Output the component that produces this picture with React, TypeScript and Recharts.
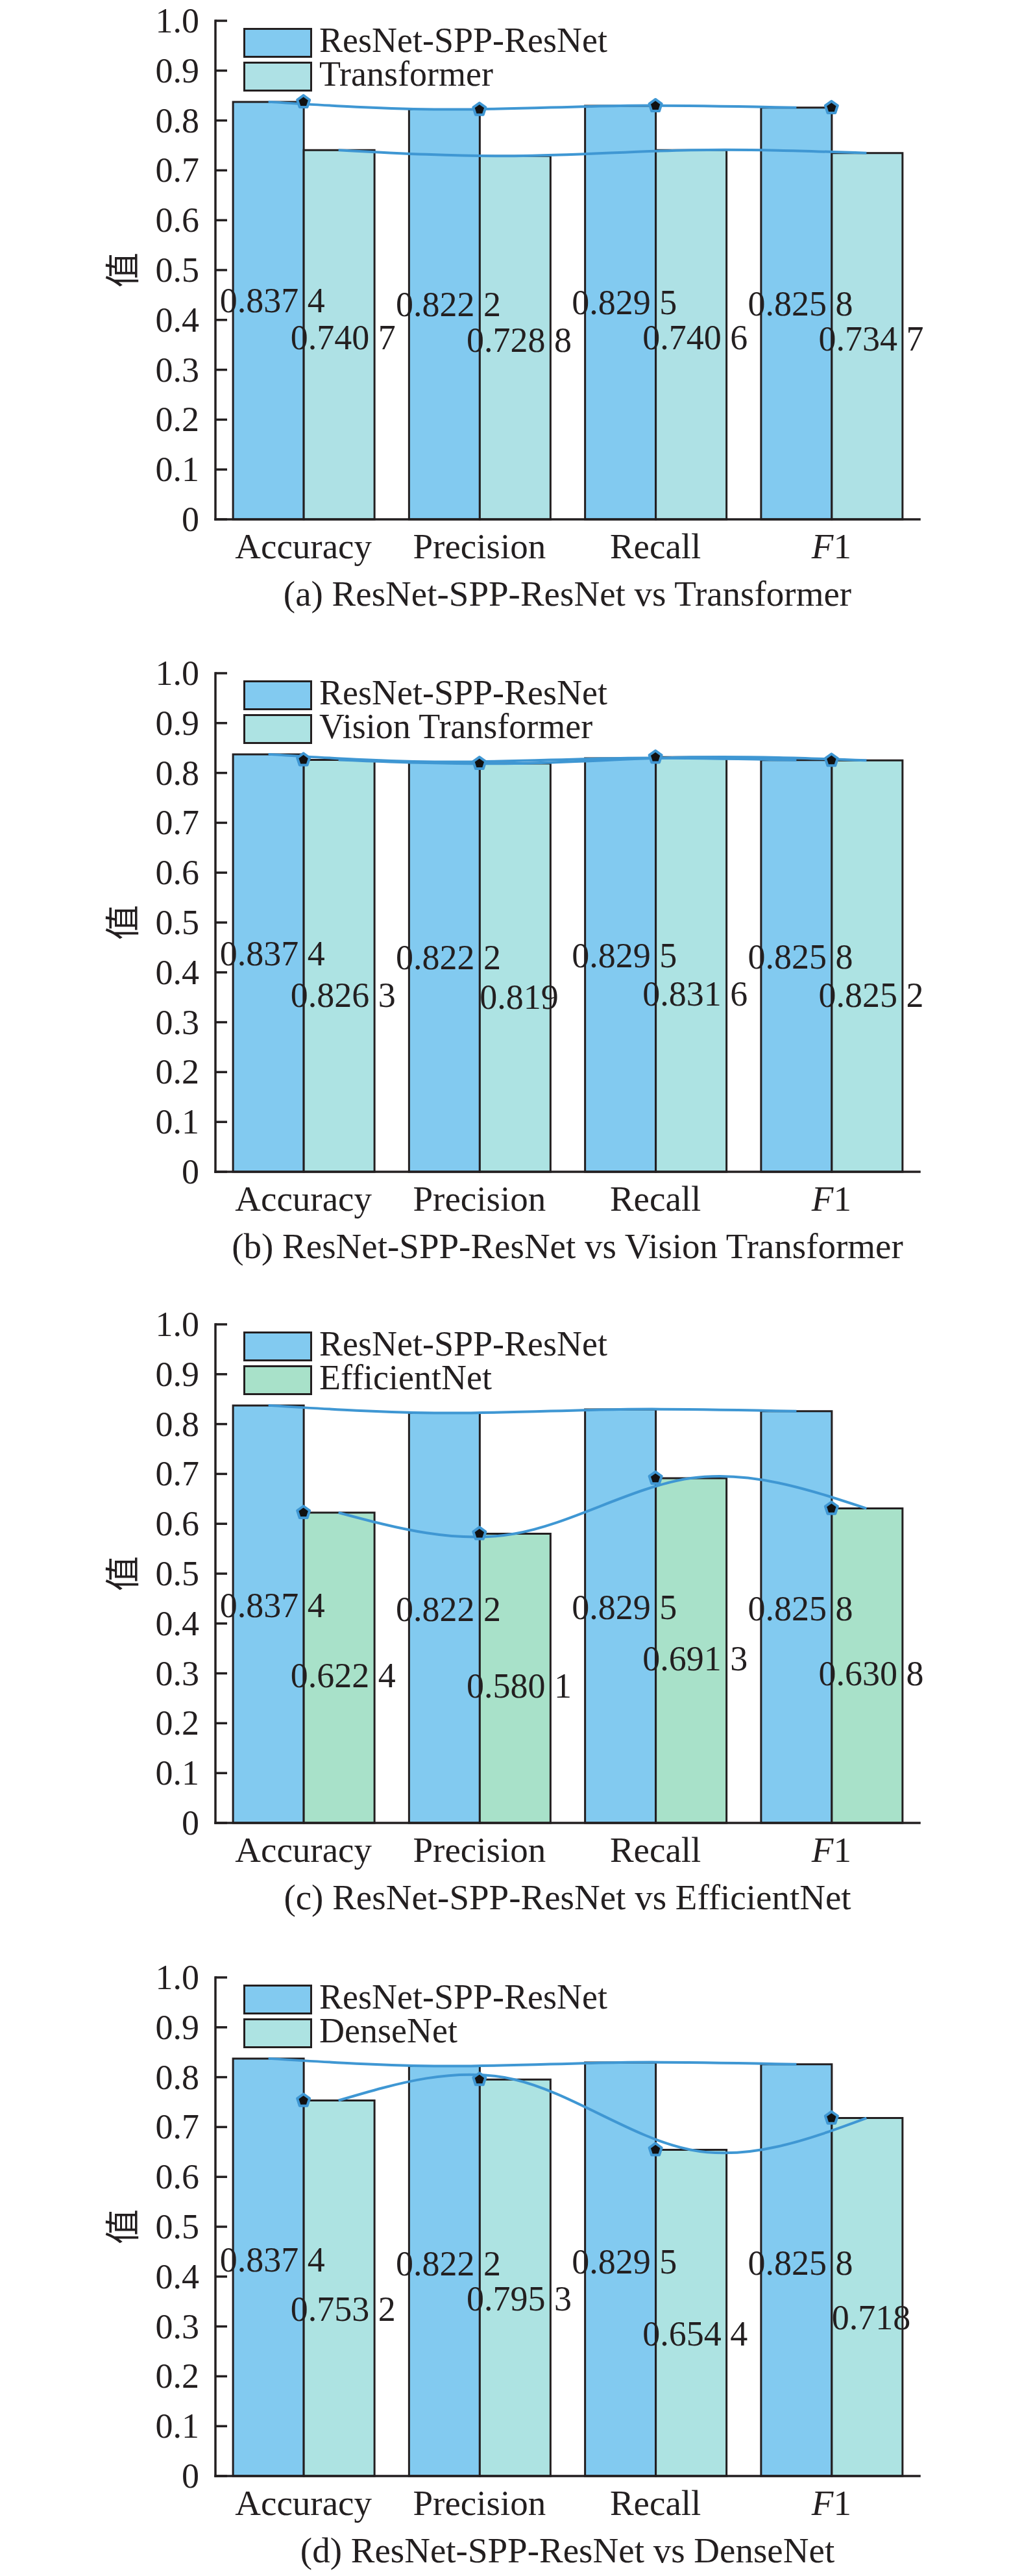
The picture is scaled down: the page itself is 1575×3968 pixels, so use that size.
import React from 'react';
import { ComposedChart, Bar, Line, XAxis, YAxis, Legend, LabelList, Label } from 'recharts';

// ---------- data ----------
const categories = ['Accuracy', 'Precision', 'Recall', 'F1'];
const resnetValues = [0.8374, 0.8222, 0.8295, 0.8258];
const transformerValues = [0.7407, 0.7288, 0.7406, 0.7347];
const vitValues = [0.8263, 0.819, 0.8316, 0.8252];
const efficientNetValues = [0.6224, 0.5801, 0.6913, 0.6308];
const denseNetValues = [0.7532, 0.7953, 0.6544, 0.718];
const yTicks = [0, 0.1, 0.2, 0.3, 0.4, 0.5, 0.6, 0.7, 0.8, 0.9, 1.0];
const mainName = 'ResNet-SPP-ResNet';
const compareNames = ['Transformer', 'Vision Transformer', 'EfficientNet', 'DenseNet'];
const captions = [
  '(a) ResNet-SPP-ResNet vs Transformer',
  '(b) ResNet-SPP-ResNet vs Vision Transformer',
  '(c) ResNet-SPP-ResNet vs EfficientNet',
  '(d) ResNet-SPP-ResNet vs DenseNet',
];
const yAxisTitle = '值';

// ---------- style ----------
const SERIF = '"Liberation Serif", "Times New Roman", serif';
const CJK = '"Noto Sans CJK SC", sans-serif';
const INK = '#231f20';
const FRAME = '#231f20';
const BLUE = '#82CAF0';
const LINE = '#3F97D3';
const FS = 54;

const panels = [
  { values2: transformerValues, color2: '#AEE1E5', marker: 's1', off1: 3, off2: 22, top: 0 },
  { values2: vitValues, color2: '#ADE3E3', marker: 's2', off1: 4, off2: 63, top: 1005 },
  { values2: efficientNetValues, color2: '#A8E1C9', marker: 's2', off1: 5, off2: 30, top: 2008 },
  { values2: denseNetValues, color2: '#ADE3E2', marker: 's2', off1: 7, off2: 50, top: 3014 },
];

const fmt = (v: number) => {
  let s = v.toFixed(4).replace(/0+$/, '');
  const dec = s.split('.')[1] || '';
  if (dec.length === 4) s = s.slice(0, -1) + ' ' + s.slice(-1);
  return s;
};

const YTick = (props: any) => {
  const { x, y, payload } = props;
  const v = payload.value as number;
  return (
    <g>
      <line x1={x + 25} x2={x + 43} y1={y} y2={y} stroke={FRAME} strokeWidth={3.5} />
      <text x={x} y={y + 18} textAnchor="end" fontSize={FS} fontFamily={SERIF} fill={INK}>
        {v === 0 ? '0' : v.toFixed(1)}
      </text>
    </g>
  );
};

const XTick = (props: any) => {
  const { x, y, payload } = props;
  const v = payload.value as string;
  return (
    <text x={x} y={y + 60} textAnchor="middle" fontSize={55} fontFamily={SERIF} fill={INK}>
      {v === 'F1' ? (
        <>
          <tspan fontStyle="italic">F</tspan>
          <tspan>1</tspan>
        </>
      ) : (
        v
      )}
    </text>
  );
};

const renderPentagon = (props: any) => {
  const { cx, cy, index } = props;
  if (cx == null || cy == null) return <g key={`m-${index}`} />;
  const r = 10;
  const pts = [0, 1, 2, 3, 4]
    .map((k) => {
      const a = ((-90 + k * 72) * Math.PI) / 180;
      return `${cx + r * Math.cos(a)},${cy + r * Math.sin(a)}`;
    })
    .join(' ');
  return (
    <polygon key={`m-${index}`} points={pts} fill="#111" stroke={LINE} strokeWidth={4} strokeLinejoin="round" />
  );
};

const LegendBox = ({ items }: { items: { name: string; color: string }[] }) => (
  <div style={{ display: 'flex', flexDirection: 'column', gap: 6 }}>
    {items.map((it) => (
      <div key={it.name} style={{ display: 'flex', alignItems: 'center', height: 46 }}>
        <div
          style={{
            width: 106,
            height: 46,
            boxSizing: 'border-box',
            border: `3.5px solid ${FRAME}`,
            background: it.color,
          }}
        />
        <span
          style={{
            marginLeft: 11,
            fontSize: FS,
            fontFamily: SERIF,
            color: INK,
            lineHeight: '46px',
            whiteSpace: 'nowrap',
            position: 'relative',
            top: -4,
          }}
        >
          {it.name}
        </span>
      </div>
    ))}
  </div>
);

const Panel = ({ idx }: { idx: number }) => {
  const p = panels[idx];
  const data = categories.map((name, i) => ({ name, s1: resnetValues[i], s2: p.values2[i] }));

  const label2 = (props: any) => {
    const { viewBox, value } = props;
    if (!viewBox) return null;
    const { x, y, width, height } = viewBox;
    return (
      <text x={x + width / 2 + 6} y={y + height / 2 + p.off2} textAnchor="middle" fontSize={FS} fontFamily={SERIF} fill={INK}>
        {fmt(value)}
      </text>
    );
  };

  const label1 = (props: any) => {
    const { viewBox, value, index } = props;
    if (!viewBox) return null;
    const { x, y, width, height } = viewBox;
    const i = typeof index === 'number' ? index : data.findIndex((d) => d.s1 === value);
    const v2 = data[i].s2;
    const base = y + height;
    const h1 = (height * value) / v2;
    return (
      <text x={x - width / 2 + 6} y={base - h1 / 2 + p.off1} textAnchor="middle" fontSize={FS} fontFamily={SERIF} fill={INK}>
        {fmt(value)}
      </text>
    );
  };

  const yLabel = (props: any) => {
    const vb = props.viewBox;
    const cx = vb.x + vb.width - 147;
    const cy = vb.y + vb.height / 2;
    return (
      <text x={cx} y={cy} transform={`rotate(-90 ${cx} ${cy})`} textAnchor="middle" dominantBaseline="central" fontSize={FS} fontFamily={CJK} fill={INK}>
        {yAxisTitle}
      </text>
    );
  };

  const caption = (props: any) => {
    const vb = props.viewBox;
    return (
      <text x={vb.x + vb.width / 2} y={vb.y + 133} textAnchor="middle" fontSize={55} fontFamily={SERIF} fill={INK}>
        {captions[idx]}
      </text>
    );
  };

  const axisLine = { stroke: FRAME, strokeWidth: 3.5, strokeLinecap: 'square' as const };

  return (
    <div style={{ position: 'absolute', left: 0, top: p.top, width: 1575, height: 1005 }}>
      <ComposedChart
        width={1575}
        height={1005}
        data={data}
        margin={{ top: 32, right: 158, bottom: 55, left: 0 }}
        barCategoryGap="10%"
        barGap={0}
      >
        <XAxis
          dataKey="name"
          interval={0}
          height={150}
          tickLine={false}
          tickSize={0}
          tickMargin={0}
          axisLine={axisLine}
          tick={<XTick />}
        >
          <Label content={caption} />
        </XAxis>
        <XAxis xAxisId="top" dataKey="name" orientation="top" height={0} tick={false} tickLine={false} axisLine={axisLine} />
        <XAxis xAxisId="L1" dataKey="name" hide padding={{ left: -54, right: 54 }} />
        <XAxis xAxisId="L2" dataKey="name" hide padding={{ left: 54, right: -54 }} />
        <YAxis
          type="number"
          domain={[0, 1]}
          ticks={yTicks}
          interval={0}
          width={332}
          tickLine={false}
          tickSize={0}
          tickMargin={25}
          axisLine={axisLine}
          tick={<YTick />}
        >
          <Label content={yLabel} />
        </YAxis>
        <YAxis yAxisId="right" orientation="right" domain={[0, 1]} width={0} tick={false} tickLine={false} axisLine={axisLine} />
        <Legend
          layout="vertical"
          align="center"
          verticalAlign="middle"
          wrapperStyle={{ top: 43, left: 375, width: 'auto', height: 'auto' }}
          content={() => (
            <LegendBox
              items={[
                { name: mainName, color: BLUE },
                { name: compareNames[idx], color: p.color2 },
              ]}
            />
          )}
        />
        <Bar dataKey="s1" fill={BLUE} stroke={FRAME} strokeWidth={3} isAnimationActive={false} />
        <Bar dataKey="s2" fill={p.color2} stroke={FRAME} strokeWidth={3} isAnimationActive={false}>
          <LabelList dataKey="s2" content={label2} />
          <LabelList dataKey="s1" content={label1} />
        </Bar>
        <Line xAxisId="L1" dataKey="s1" type="natural" stroke={LINE} strokeWidth={4} dot={false} activeDot={false} isAnimationActive={false} />
        <Line xAxisId="L2" dataKey="s2" type="natural" stroke={LINE} strokeWidth={4} dot={false} activeDot={false} isAnimationActive={false} />
        <Line dataKey={p.marker} stroke="none" dot={renderPentagon} activeDot={false} isAnimationActive={false} />
      </ComposedChart>
    </div>
  );
}

export default function App() {
  return (
    <div
      style={{
        position: 'absolute',
        left: 0,
        top: 0,
        width: 1575,
        height: 3968,
        overflow: 'hidden',
        background: '#fff',
      }}
    >
      {panels.map((_, i) => (
        <Panel key={i} idx={i} />
      ))}
    </div>
  );
}
